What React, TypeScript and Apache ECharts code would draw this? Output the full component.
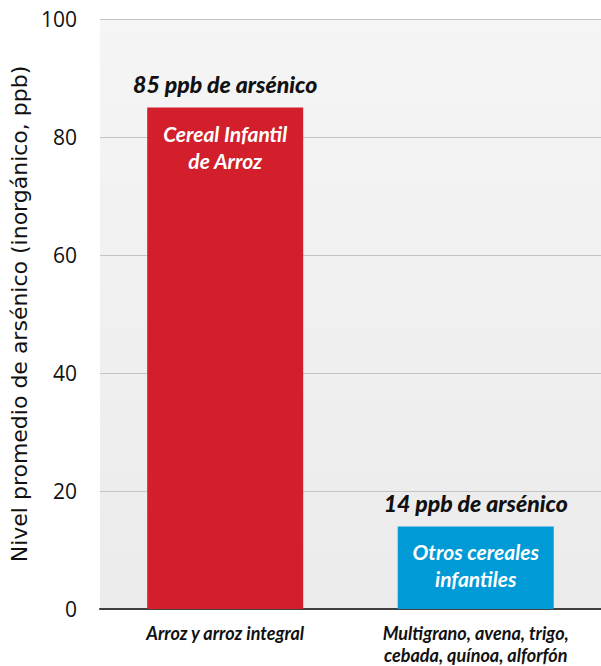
import React, { useEffect, useRef } from "react";
import * as echarts from "echarts";

const categories = ["Arroz y arroz integral", "Multigrano, avena, trigo,\ncebada, quínoa, alforfón"];
const values = [85, 14];
const topLabels = ["85 ppb de arsénico", "14 ppb de arsénico"];
const innerLabels = ["Cereal Infantil\nde Arroz", "Otros cereales\ninfantiles"];
const barColors = ["#D21F2B", "#009BD6"];
const yTicks = [0, 20, 40, 60, 80, 100];

export default function App() {
  const ref = useRef<HTMLDivElement>(null);
  useEffect(() => {
    const chart = echarts.init(ref.current!, undefined, { renderer: "svg" });
    const labelFont = "Lato, 'Open Sans', sans-serif";
    chart.setOption({
      animation: false,
      grid: {
        left: 90,
        right: 0,
        top: 19,
        bottom: 45,
        show: true,
        borderWidth: 0,
        backgroundColor: {
          type: "linear", x: 0, y: 0, x2: 0, y2: 1,
          colorStops: [
            { offset: 0, color: "#f5f5f5" },
            { offset: 1, color: "#ebebeb" },
          ],
        },
      },
      xAxis: {
        type: "category",
        data: categories,
        axisTick: { show: false },
        axisLine: { lineStyle: { color: "#404040", width: 2 } },
        axisLabel: {
          color: "#111",
          fontFamily: labelFont,
          fontStyle: "italic",
          fontWeight: "bold",
          fontSize: 18,
          lineHeight: 22,
          margin: 13,
          interval: 0,
        },
      },
      yAxis: {
        type: "value",
        min: 0,
        max: 100,
        interval: 20,
        axisLine: { show: false },
        axisTick: { show: false },
        splitLine: { lineStyle: { color: "#c4c4c4", width: 1 } },
        axisLabel: {
          color: "#111",
          fontSize: 21,
          fontFamily: "'Open Sans', 'Noto Sans', sans-serif",
          margin: 23,
          formatter: (v: number) => (yTicks.includes(v) ? String(v) : ""),
        },
        name: "Nivel promedio de arsénico (inorgánico, ppb)",
        nameLocation: "middle",
        nameRotate: 90,
        nameGap: 68,
        nameTextStyle: {
          color: "#111",
          fontSize: 22,
          fontFamily: "'DejaVu Sans', sans-serif",
        },
      },
      series: [
        {
          type: "bar",
          barWidth: 156,
          data: values.map((v, i) => ({ value: v, itemStyle: { color: barColors[i] } })),
          label: {
            show: true,
            position: "top",
            distance: 12,
            color: "#111",
            fontFamily: labelFont,
            fontStyle: "italic",
            fontWeight: 900,
            fontSize: 23,
            formatter: (p: any) => topLabels[p.dataIndex],
          },
        },
        {
          type: "bar",
          barWidth: 156,
          barGap: "-100%",
          data: values,
          itemStyle: { color: "transparent" },
          label: {
            show: true,
            position: "insideTop",
            distance: 12,
            color: "#fff",
            fontFamily: labelFont,
            fontStyle: "italic",
            fontWeight: "bold",
            fontSize: 21,
            lineHeight: 27,
            formatter: (p: any) => innerLabels[p.dataIndex],
          },
        },
      ],
    });
    return () => chart.dispose();
  }, []);
  return <div ref={ref} style={{ width: 601, height: 666, position: "absolute", left: 0, top: 0 }} />;
}
